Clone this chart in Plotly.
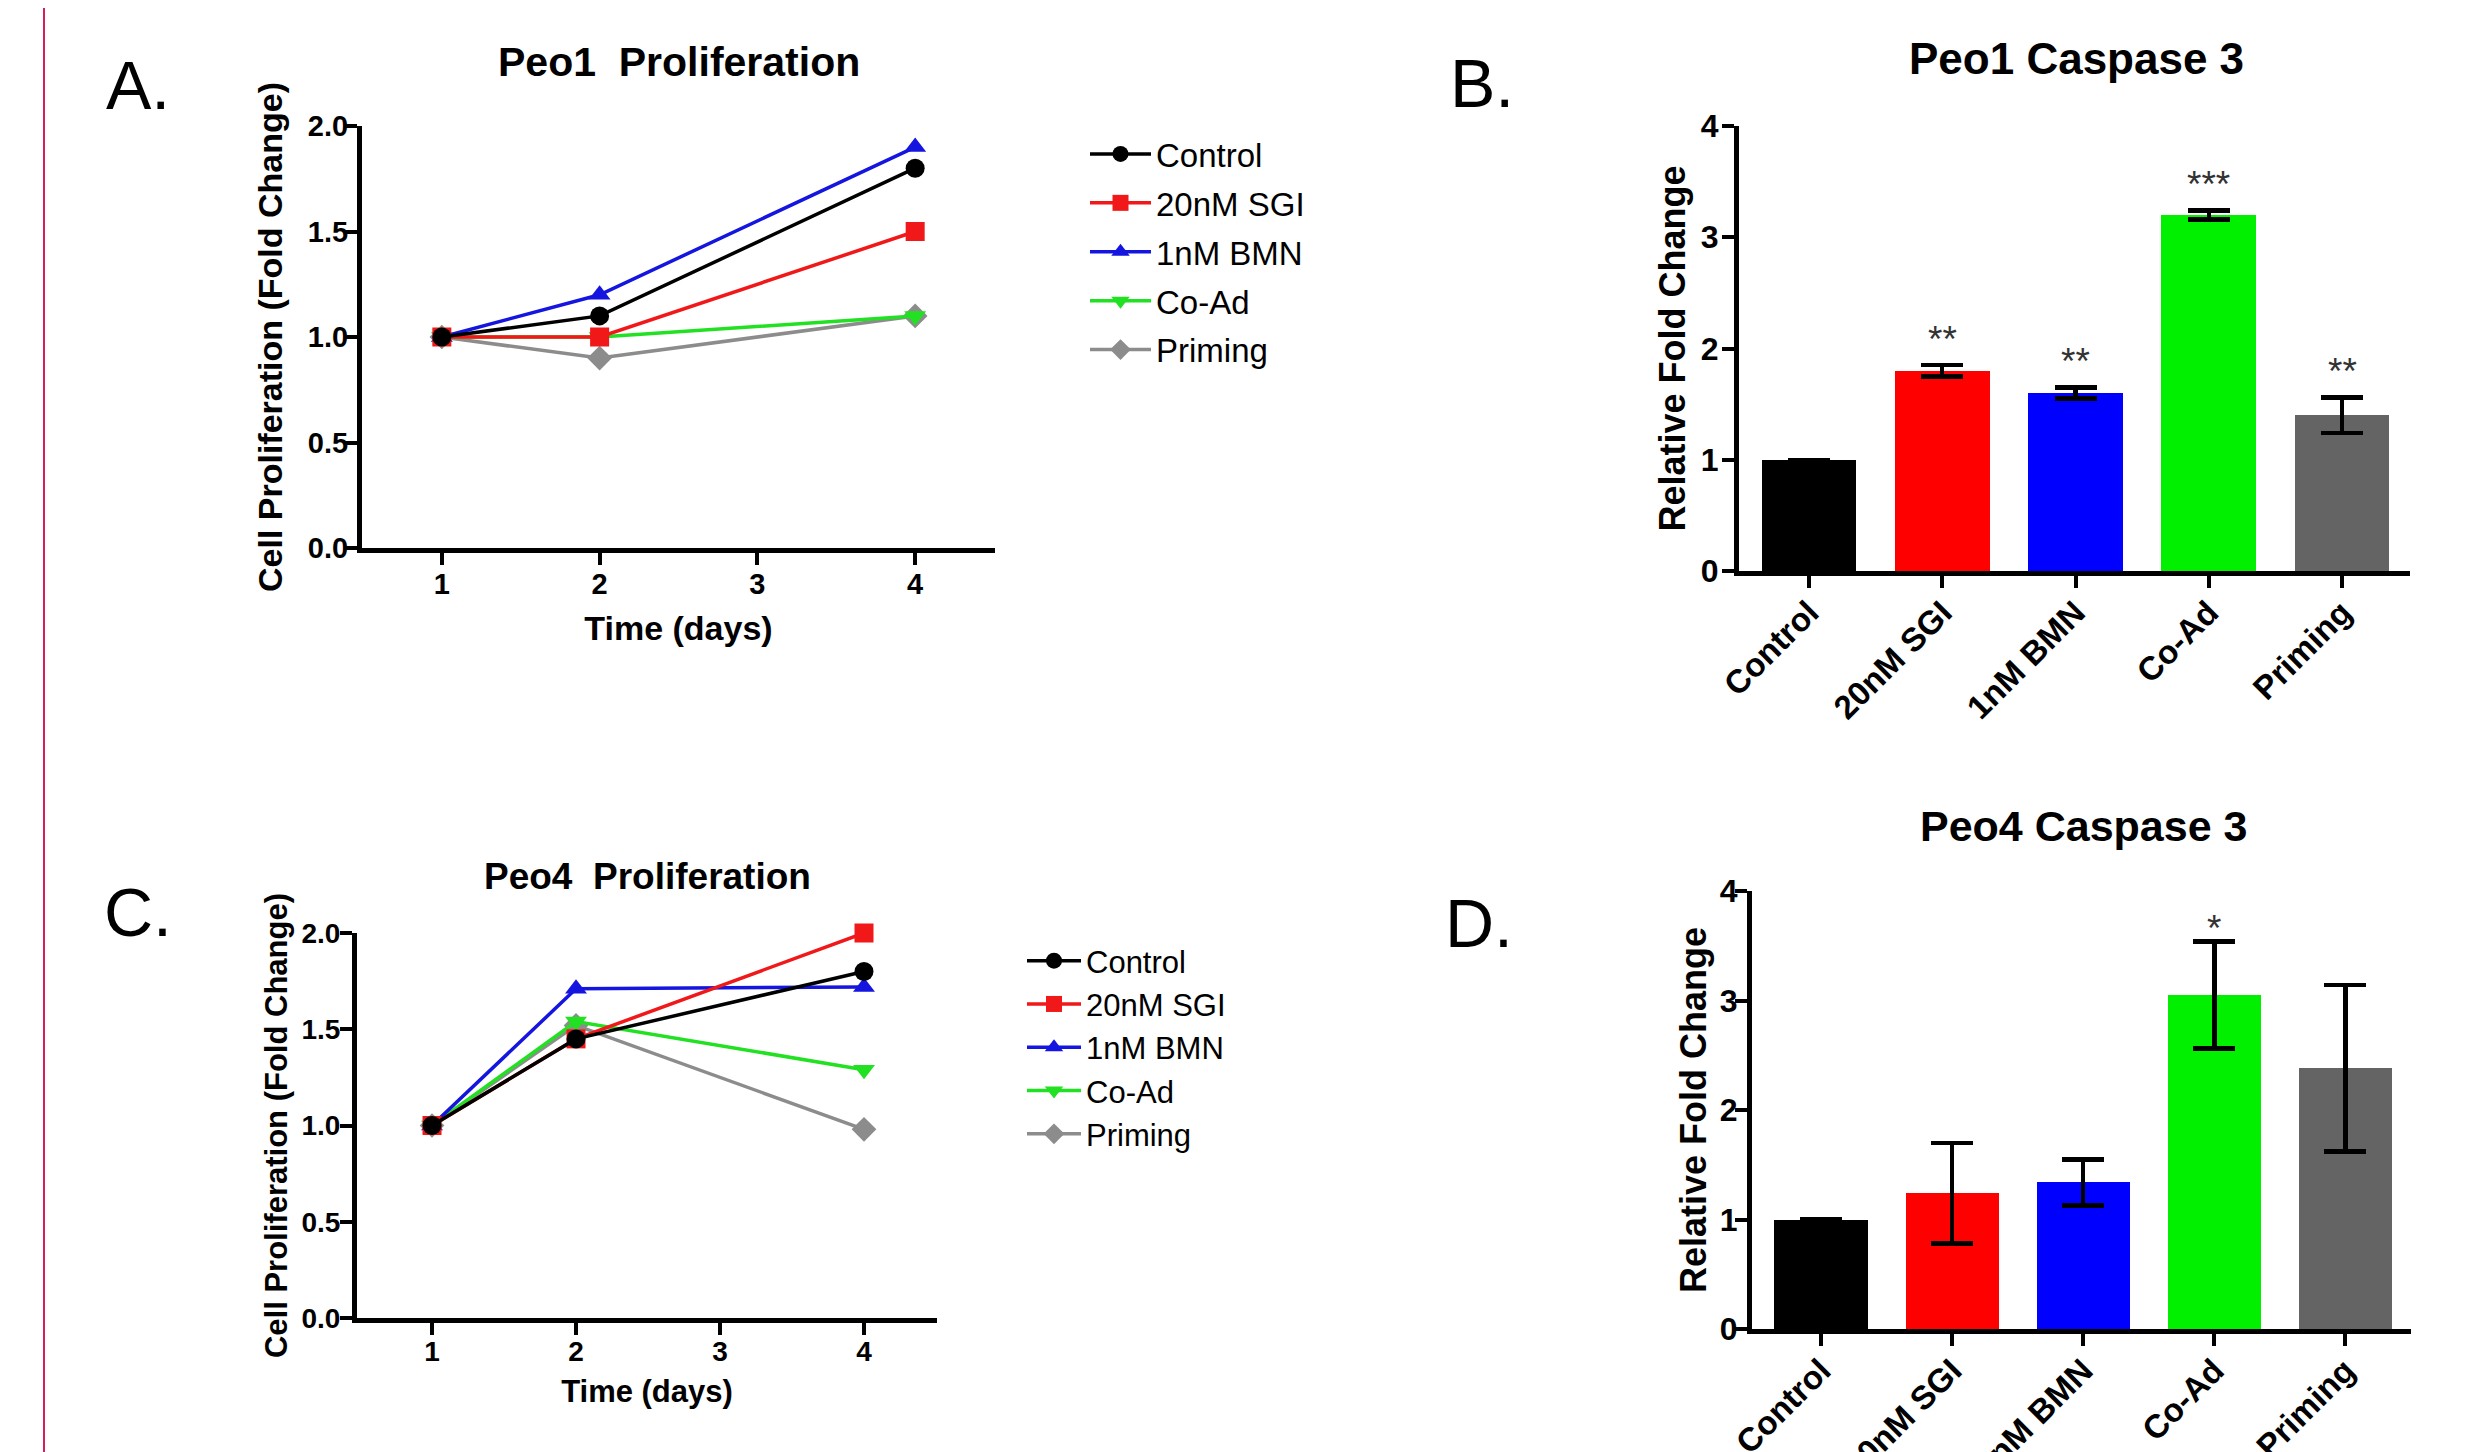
import plotly.graph_objects as go

# ---------------- data ----------------
days = [1, 2, 4]
treatments = ["Control", "20nM SGI", "1nM BMN", "Co-Ad", "Priming"]

peo1_control = [1.0, 1.1, 1.8]
peo1_sgi = [1.0, 1.0, 1.5]
peo1_bmn = [1.0, 1.2, 1.9]
peo1_coad = [1.0, 1.0, 1.1]
peo1_priming = [1.0, 0.9, 1.1]

peo4_control = [1.0, 1.45, 1.8]
peo4_sgi = [1.0, 1.45, 2.0]
peo4_bmn = [1.0, 1.71, 1.72]
peo4_coad = [1.0, 1.54, 1.29]
peo4_priming = [1.0, 1.52, 0.98]

peo1_casp = [1.0, 1.8, 1.6, 3.2, 1.4]
peo1_casp_err = [0.0, 0.05, 0.05, 0.04, 0.16]
peo1_stars = ["", "**", "**", "***", "**"]

peo4_casp = [1.0, 1.24, 1.34, 3.05, 2.38]
peo4_casp_err = [0.0, 0.46, 0.21, 0.49, 0.76]
peo4_stars = ["", "", "", "*", ""]

y_ticks_prolif = [0.0, 0.5, 1.0, 1.5, 2.0]
y_ticks_casp = [0, 1, 2, 3, 4]
x_ticks_days = [1, 2, 3, 4]

# ---------------- styles ----------------
W, H = 2471, 1452
OFF = 8  # default page body margin
FW, FH = W - OFF, H - OFF
line_colors = ["#000000", "#f01818", "#1515e0", "#22e022", "#8c8c8c"]
bar_colors = ["#000000", "#ff0000", "#0000ff", "#00f000", "#646464"]
symbols = ["circle", "square", "triangle-up", "triangle-down", "diamond"]
FONT = "Liberation Sans, Arial, sans-serif"


def px(x):
    return (x - OFF) / FW


def py(y):
    return 1 - (y - OFF) / FH


fig = go.Figure()

prolif_sets = [
    ("x", "y", "legend", [peo1_control, peo1_sgi, peo1_bmn, peo1_coad, peo1_priming]),
    ("x3", "y3", "legend2", [peo4_control, peo4_sgi, peo4_bmn, peo4_coad, peo4_priming]),
]
for xa, ya, leg, series in prolif_sets:
    # draw in reverse so Control ends on top, keep legend order
    for i in reversed(range(len(treatments))):
        fig.add_trace(go.Scatter(
            x=days, y=series[i], name=treatments[i], xaxis=xa, yaxis=ya,
            mode="lines+markers", legend=leg, legendrank=i + 1,
            legendgroup=f"{leg}_{i}",
            line=dict(color=line_colors[i], width=3.5),
            marker=dict(symbol=symbols[i], size=19, color=line_colors[i]),
            cliponaxis=False,
        ))

casp_sets = [
    ("x2", "y2", peo1_casp, peo1_casp_err, peo1_stars, 0.23),
    ("x4", "y4", peo4_casp, peo4_casp_err, peo4_stars, 0.12),
]
for xa, ya, vals, errs, stars, off in casp_sets:
    fig.add_trace(go.Bar(
        x=list(range(len(treatments))), y=vals, xaxis=xa, yaxis=ya,
        marker=dict(color=bar_colors, line=dict(width=0)), width=0.71,
        error_y=dict(type="data", array=errs, visible=True, color="#000000",
                     thickness=4.5, width=21),
        showlegend=False,
    ))
    for i, s in enumerate(stars):
        if s:
            fig.add_annotation(
                x=i, y=vals[i] + errs[i] + off, xref=xa, yref=ya, text=s,
                showarrow=False, yanchor="middle",
                font=dict(family=FONT, size=37, color="#333333"),
            )

axis_common = dict(
    showline=True, linecolor="#000000", linewidth=5, ticks="outside",
    ticklen=12, tickwidth=4, tickcolor="#000000", showgrid=False,
    zeroline=False, automargin=False,
)

fig.update_layout(
    width=FW, height=FH, margin=dict(l=0, r=0, t=0, b=0),
    paper_bgcolor="white", plot_bgcolor="white",
    font=dict(family=FONT, color="#000000"),
    bargap=0,
    # Panel A
    xaxis=dict(domain=[px(362), px(995)], anchor="y", range=[0.494, 4.506],
               tickvals=x_ticks_days, ticklabelstandoff=-6,
               tickfont=dict(size=29, weight="bold"),
               title=dict(text="<b>Time (days)</b>", font=dict(size=34), standoff=19),
               **axis_common),
    yaxis=dict(domain=[py(548), py(126)], anchor="x", range=[0, 2],
               tickvals=y_ticks_prolif, tickformat=".1f", ticklabelstandoff=-9,
               tickfont=dict(size=29, weight="bold"),
               title=dict(text="<b>Cell Proliferation (Fold Change)</b>", font=dict(size=34), standoff=16),
               **axis_common),
    # Panel B
    xaxis2=dict(domain=[px(1739), px(2410)], anchor="y2", range=[-0.525, 4.51],
                tickvals=list(range(len(treatments))), ticktext=treatments,
                tickangle=-45, tickfont=dict(size=33, weight="bold"),
                ticklabelstandoff=-8,
                **axis_common),
    yaxis2=dict(domain=[py(571), py(126)], anchor="x2", range=[0, 4],
                tickvals=y_ticks_casp, tickfont=dict(size=32, weight="bold"),
                ticklabelstandoff=-3,
                title=dict(text="<b>Relative Fold Change</b>", font=dict(size=36), standoff=6),
                **axis_common),
    # Panel C
    xaxis3=dict(domain=[px(357), px(937)], anchor="y3", range=[0.479, 4.507],
                tickvals=x_ticks_days, tickfont=dict(size=28, weight="bold"),
                ticklabelstandoff=-8,
                title=dict(text="<b>Time (days)</b>", font=dict(size=31), standoff=16),
                **axis_common),
    yaxis3=dict(domain=[py(1318), py(933)], anchor="x3", range=[0, 2],
                tickvals=y_ticks_prolif, tickformat=".1f", ticklabelstandoff=-6,
                tickfont=dict(size=28, weight="bold"),
                title=dict(text="<b>Cell Proliferation (Fold Change)</b>", font=dict(size=31), standoff=6),
                **axis_common),
    # Panel D
    xaxis4=dict(domain=[px(1752), px(2411)], anchor="y4", range=[-0.526, 4.50],
                tickvals=list(range(len(treatments))), ticktext=treatments,
                tickangle=-45, tickfont=dict(size=33, weight="bold"),
                ticklabelstandoff=-8,
                **axis_common),
    yaxis4=dict(domain=[py(1329), py(891)], anchor="x4", range=[0, 4],
                tickvals=y_ticks_casp, tickfont=dict(size=32, weight="bold"),
                ticklabelstandoff=-9,
                title=dict(text="<b>Relative Fold Change</b>", font=dict(size=36), standoff=4),
                **axis_common),
    legend=dict(x=px(1085), y=py(126), xanchor="left", yanchor="top",
                font=dict(size=33, family=FONT), bgcolor="rgba(0,0,0,0)",
                tracegroupgap=3, itemwidth=61, traceorder="grouped"),
    legend2=dict(x=px(1022), y=py(934), xanchor="left", yanchor="top",
                 font=dict(size=31, family=FONT), bgcolor="rgba(0,0,0,0)",
                 tracegroupgap=0, itemwidth=54, traceorder="grouped"),
)

# panel titles
titles = [
    ("<b>Peo1  Proliferation</b>", 679, 62, 41),
    ("<b>Peo1 Caspase 3</b>", 2076, 58, 44),
    ("<b>Peo4  Proliferation</b>", 647, 876, 37),
    ("<b>Peo4 Caspase 3</b>", 2083, 826, 43),
]
for t, cx, cy, sz in titles:
    fig.add_annotation(x=px(cx), y=py(cy), xref="paper", yref="paper", text=t,
                       showarrow=False, xanchor="center", yanchor="middle",
                       font=dict(size=sz, family=FONT))

letters = [("A.", 138, 85), ("B.", 1482, 83), ("C.", 138, 912), ("D.", 1479, 923)]
for t, cx, cy in letters:
    fig.add_annotation(x=px(cx), y=py(cy), xref="paper", yref="paper", text=t,
                       showarrow=False, xanchor="center", yanchor="middle",
                       font=dict(size=68, family=FONT))

# left border line
fig.add_shape(type="line", xref="paper", yref="paper", x0=px(44), x1=px(44),
              y0=0, y1=1, line=dict(color="#d81b60", width=2))

fig.write_html("out.html")
